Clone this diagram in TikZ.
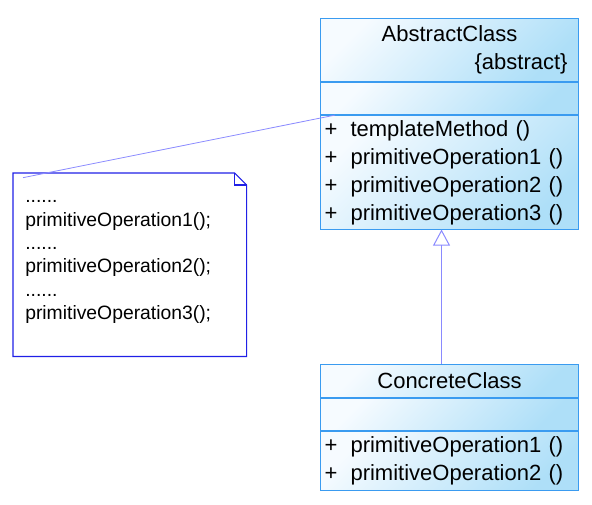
\documentclass[tikz,border=0pt]{standalone}
\usepackage{fontspec}
\setmainfont{Liberation Sans}
\usetikzlibrary{arrows.meta, positioning}
\definecolor{classedge}{HTML}{3A9BF0}
\definecolor{classlight}{HTML}{F6FBFF}
\definecolor{classdark}{HTML}{AEDFF8}
\definecolor{noteedge}{HTML}{2020E6}
\definecolor{linkblue}{HTML}{8A8AFF}
\tikzstyle{classpart} = [rectangle, draw=classedge, line width=0.8pt, top color=classlight, bottom color=classdark,
  shading angle=45, minimum width=193.5pt, font=\fontsize{16.5}{21}\selectfont, text=black]
\tikzstyle{headpart} = [classpart, inner xsep=8.25pt, text width=177pt, align=center]
\tikzstyle{oppart} = [classpart, inner xsep=3pt, text width=187.5pt, align=left]
\tikzstyle{notetext} = [font=\fontsize{14.5}{17.5}\selectfont, align=left, text width=160pt, inner sep=0pt]
\tikzstyle{noteline} = [draw=noteedge, line width=0.8pt]
\tikzstyle{genarrow} = [draw=linkblue, line width=0.75pt, -{Triangle[open, length=12pt, width=12.75pt]}]
\tikzstyle{notelink} = [draw=linkblue, line width=0.6pt]
\newcommand{\op}[1]{\makebox[19.5pt][l]{+}#1}

\begin{document}
\begin{tikzpicture}[x=0.75pt, y=-0.75pt]
  \useasboundingbox (0,0) rectangle (592,505);

  % abstract class
  \node (absHead) [headpart, anchor=north west, minimum height=47.25pt] at (320,18)
    {AbstractClass\\\hspace*{0pt plus 1fill}\{abstract\}};
  \node (absAttr) [classpart, below=0pt of absHead, minimum height=24pt] {};
  \node (absOps) [oppart, below=0pt of absAttr, minimum height=84.75pt]
    {\op{templateMethod ()}\\\op{primitiveOperation1 ()}\\\op{primitiveOperation2 ()}\\\op{primitiveOperation3 ()}};

  % concrete class
  \node (conHead) [headpart, anchor=north west, minimum height=24.75pt] at (320,364) {ConcreteClass};
  \node (conAttr) [classpart, below=0pt of conHead, minimum height=24pt] {};
  \node (conOps) [oppart, below=0pt of conAttr, minimum height=44.25pt]
    {\op{primitiveOperation1 ()}\\\op{primitiveOperation2 ()}};

  % note
  \node (note) [anchor=north west, minimum width=174.75pt, minimum height=137.25pt, inner sep=0pt] at (13,173) {};
  \draw[noteline] (note.north west) -- ([xshift=-9pt]note.north east) -- ([yshift=-9pt]note.north east)
    -- (note.south east) -- (note.south west) -- cycle;
  \draw[noteline] ([xshift=-9pt]note.north east) |- ([yshift=-9pt]note.north east);
  \node (code) [notetext, anchor=base west] at (25,203)
    {......\\primitiveOperation1();\\......\\primitiveOperation2();\\......\\primitiveOperation3();};

  \draw[notelink] ([shift={(7.5pt,-3.5pt)}]note.north west) -- ([xshift=11.25pt]absOps.north west);
  \draw[genarrow] ([xshift=-6pt]conHead.north) -- ([xshift=-6pt]absOps.south);
\end{tikzpicture}
\end{document}
